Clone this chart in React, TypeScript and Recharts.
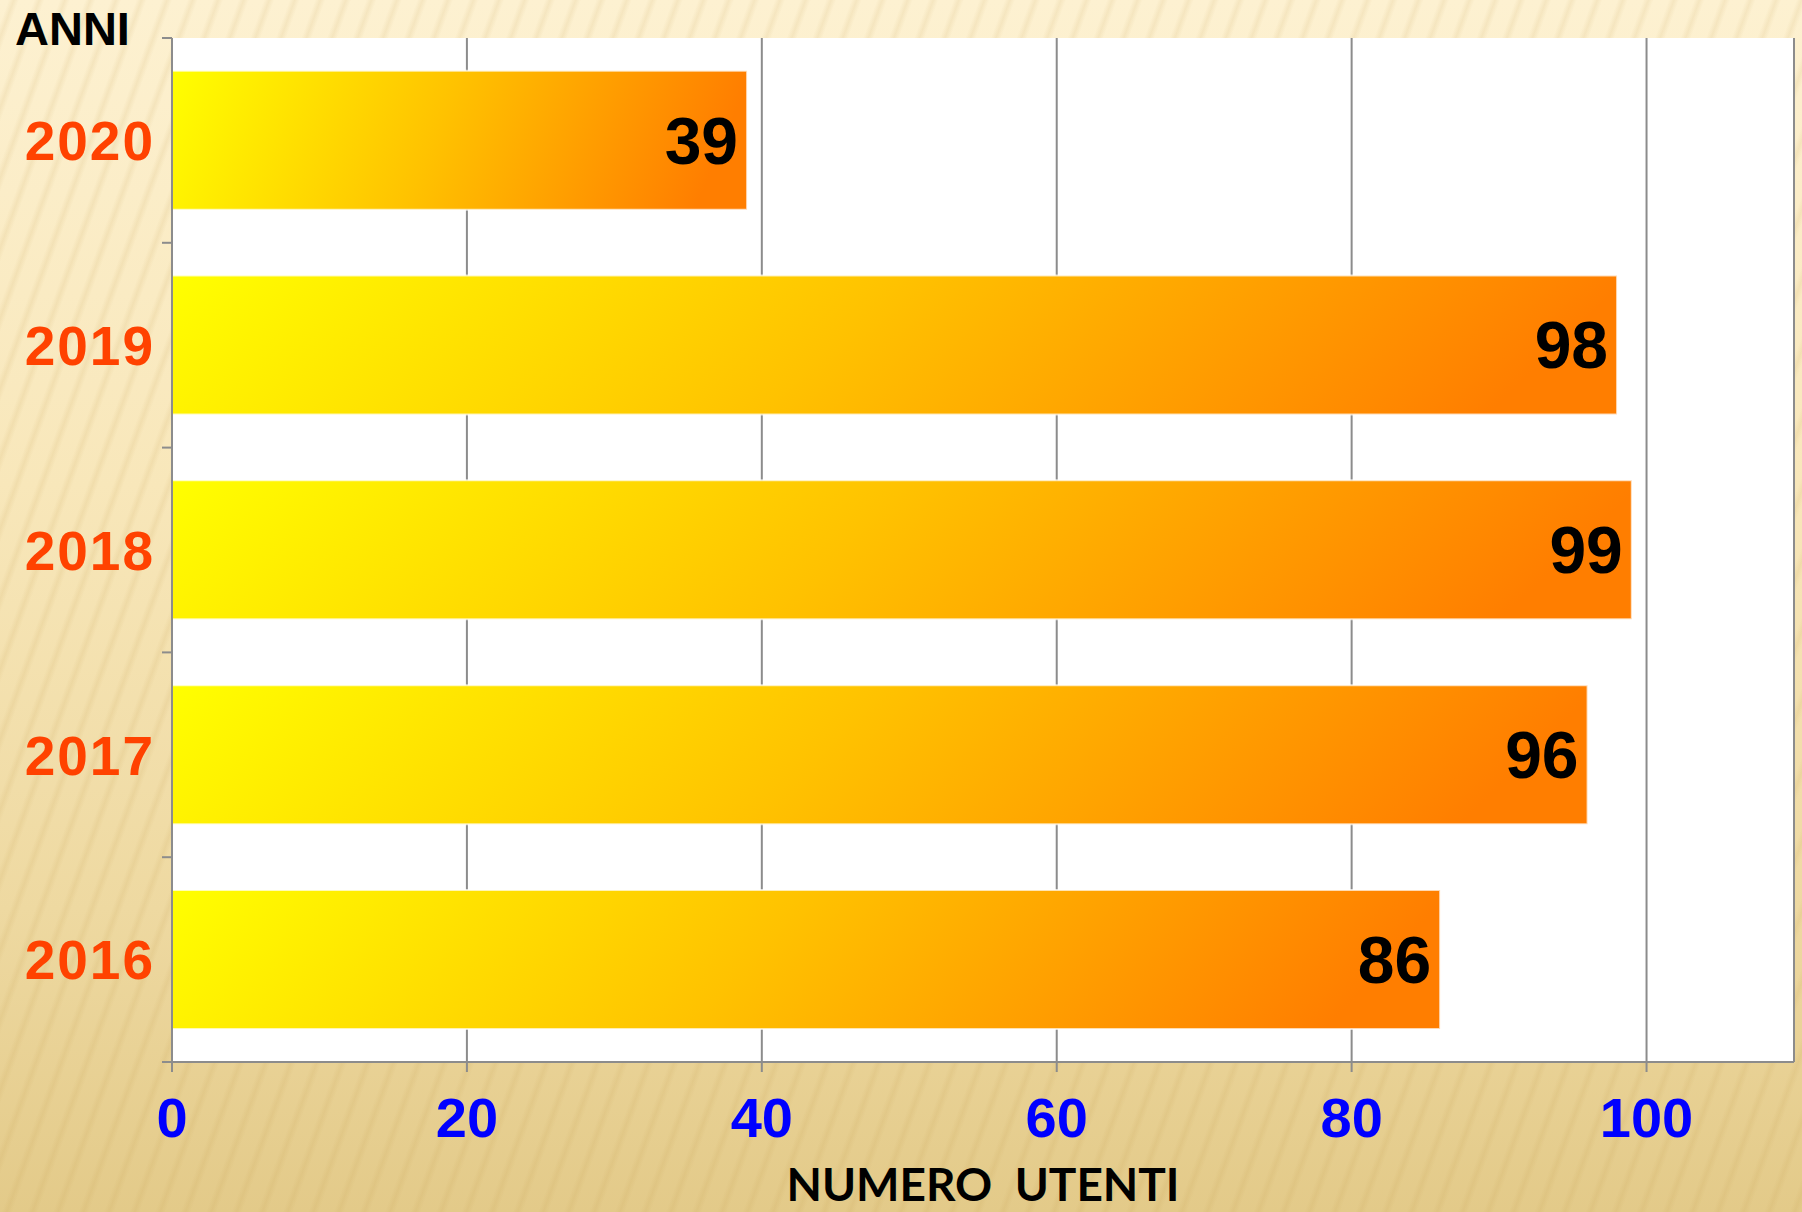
import React from "react"
import { BarChart, Bar, XAxis, YAxis, CartesianGrid, LabelList } from "recharts"

// ── data ─────────────────────────────────────────────
const years = ["2020", "2019", "2018", "2017", "2016"]
const users = [39, 98, 99, 96, 86]
const xTicks = [0, 20, 40, 60, 80, 100]

const data = years.map((year, i) => ({ year, users: users[i] }))

const W = 1802
const H = 1212
const AXIS_GRAY = "#8c8c8c"
const ARIAL = '"Liberation Sans", Arial, sans-serif'

// year label + tick marks on the band edges (category boundaries)
const YearTick = (props: any) => {
  const { x, y, payload, index, visibleTicksCount } = props
  const half = payload?.offset ?? 0
  const axisX = x + 20
  const isLast = index === visibleTicksCount - 1
  return (
    <g>
      <line x1={axisX - 10} x2={axisX} y1={y - half} y2={y - half} stroke={AXIS_GRAY} strokeWidth={2} />
      {isLast && <line x1={axisX - 10} x2={axisX} y1={y + half} y2={y + half} stroke={AXIS_GRAY} strokeWidth={2} />}
      <text
        x={axisX - 17}
        y={y}
        dy="0.36em"
        textAnchor="end"
        fill="#ff4200"
        fontFamily={ARIAL}
        fontWeight={700}
        fontSize={55}
        letterSpacing={2}
      >
        {payload.value}
      </text>
    </g>
  )
}

export default function App() {
  return (
    <div
      style={{
        position: "absolute",
        left: 0,
        top: 0,
        width: W,
        height: H,
        background:
          "repeating-linear-gradient(110deg, rgba(255,255,255,0) 0px, rgba(255,255,255,0) 8px, rgba(190,150,70,0.12) 13px, rgba(255,255,255,0) 18px, rgba(255,255,255,0) 24px), linear-gradient(180deg, #fdf1d1 0%, #f8e7ba 40%, #eed9a1 75%, #e3ca89 100%)",
      }}
    >
      <BarChart
        width={W}
        height={H}
        data={data}
        layout="vertical"
        barCategoryGap="16%"
        margin={{ top: 38, right: 8, left: 171, bottom: 0 }}
      >
        <defs>
          <linearGradient id="barFill" x1="0" y1="0" x2="1" y2="0.1">
            <stop offset="0%" stopColor="#ffff00" />
            <stop offset="50%" stopColor="#ffc200" />
            <stop offset="100%" stopColor="#ff7e00" />
          </linearGradient>
        </defs>
        <CartesianGrid horizontal={false} fill="#ffffff" stroke={AXIS_GRAY} strokeWidth={2} />
        <XAxis
          type="number"
          domain={[0, 110]}
          ticks={xTicks}
          height={150}
          tickSize={10}
          tickMargin={25}
          axisLine={{ stroke: AXIS_GRAY, strokeWidth: 2 }}
          tickLine={{ stroke: AXIS_GRAY, strokeWidth: 2 }}
          tick={{ fill: "#0000ff", fontFamily: ARIAL, fontWeight: 700, fontSize: 56 }}
          label={{
            content: (p: any) => (
              <text
                x={(p.viewBox?.x ?? 172) + (p.viewBox?.width ?? 1622) / 2}
                y={1201}
                textAnchor="middle"
                fill="#000"
                fontFamily='Lato, "Open Sans", sans-serif'
                fontWeight={700}
                fontSize={46}
                style={{ whiteSpace: "pre" }}
                textLength={393}
              >
                NUMERO  UTENTI
              </text>
            ),
          }}
        />
        <YAxis
          type="category"
          dataKey="year"
          width={1}
          tickLine={false}
          axisLine={{ stroke: AXIS_GRAY, strokeWidth: 2 }}
          tickSize={0}
          tickMargin={20}
          tick={<YearTick />}
          label={{
            content: () => (
              <text x={15} y={45} fill="#000" fontFamily={ARIAL} fontWeight={700} fontSize={47}>
                ANNI
              </text>
            ),
          }}
        />
        <Bar dataKey="users" fill="url(#barFill)" stroke="rgba(255,255,255,0.7)" strokeWidth={2} isAnimationActive={false}>
          <LabelList
            dataKey="users"
            position="insideRight"
            offset={9}
            fill="#000"
            fontFamily={ARIAL}
            fontWeight={700}
            fontSize={66}
          />
        </Bar>
      </BarChart>
    </div>
  )
}
